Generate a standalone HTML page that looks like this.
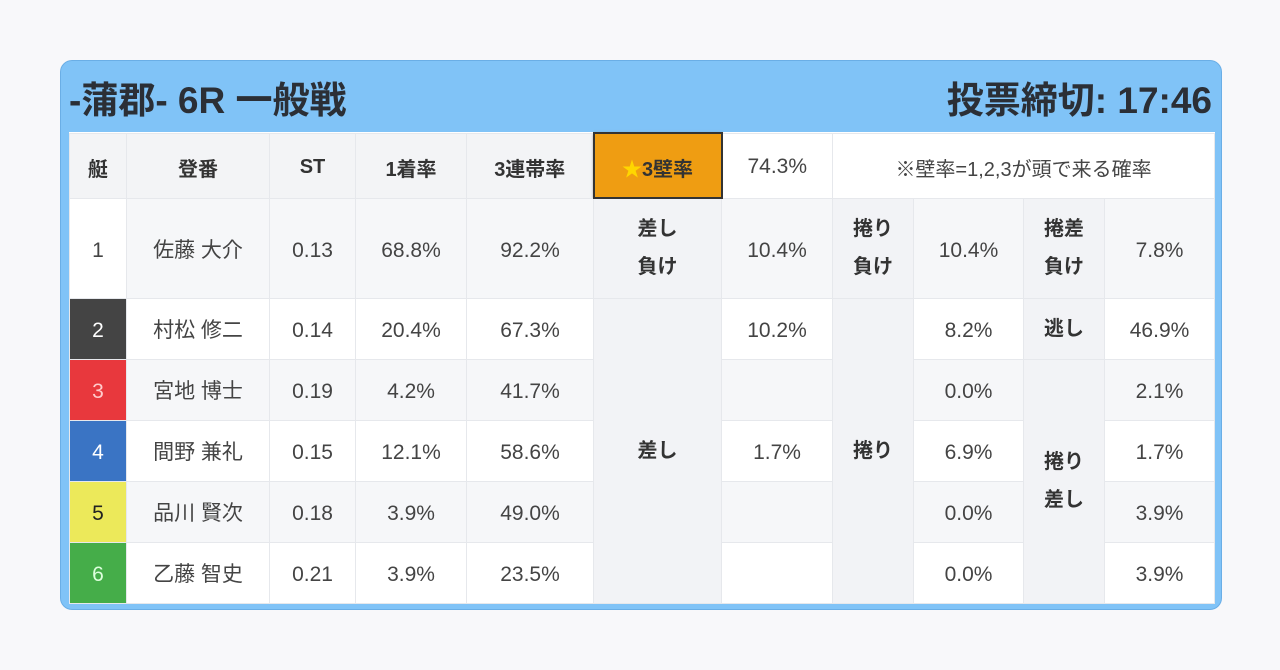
<!DOCTYPE html>
<html><head><meta charset="utf-8"><style>
body{margin:0;background:#f8f8fa;width:1280px;height:670px;font-family:"Liberation Sans","Noto Sans CJK JP",sans-serif;color:#333}
.card{position:absolute;left:60px;top:60px;width:1162px;height:550px;background:#80c3f7;border-radius:12px;box-sizing:border-box;border:1px solid #6aaee6}
.h{position:absolute;top:19px;font-size:37px;font-weight:bold;color:#2b2f36;line-height:42px}
table{position:absolute;left:8px;top:71px;border-collapse:collapse;table-layout:fixed;width:1145px;background:#fff}
td{border:1px solid #e6e8ec;text-align:center;font-size:21px;padding:5px 0 0 0;color:#444;line-height:26px}
tr.g td{background:#f6f7f9}
td.w{background:#fff!important}
td.l{background:#f2f3f6!important;font-weight:bold;color:#333;line-height:38px;padding-top:0;font-size:20px}
th{border:1px solid #e6e8ec;background:#f3f4f6;font-size:20px;font-weight:bold;color:#333;padding-top:4px}
.n{color:#fff}
</style></head><body>
<div class="card">
<div class="h" style="left:8px">-蒲郡- 6R 一般戦</div>
<div class="h" style="right:9px">投票締切: 17:46</div>
<table>
<colgroup><col style="width:57px"><col style="width:143px"><col style="width:86px"><col style="width:111px"><col style="width:127px"><col style="width:128px"><col style="width:111px"><col style="width:81px"><col style="width:110px"><col style="width:81px"><col style="width:110px"></colgroup>
<tr style="height:65px"><th>艇</th><th>登番</th><th>ST</th><th>1着率</th><th>3連帯率</th><th style="background:#ef9d12;border:2px solid #333;box-shadow:0 1px 3px #555"><span style="color:#ffd600">★</span>3壁率</th><th style="background:#fff;font-weight:normal;font-size:21px;color:#444">74.3%</th><th colspan="4" style="background:#fff;font-weight:normal;font-size:20px;color:#444">※壁率=1,2,3が頭で来る確率</th></tr>
<tr class="g" style="height:100px"><td class="w">1</td><td>佐藤 大介</td><td>0.13</td><td>68.8%</td><td>92.2%</td><td class="l">差し<br>負け</td><td>10.4%</td><td class="l">捲り<br>負け</td><td>10.4%</td><td class="l">捲差<br>負け</td><td>7.8%</td></tr>
<tr style="height:61px"><td class="n" style="background:#444">2</td><td>村松 修二</td><td>0.14</td><td>20.4%</td><td>67.3%</td><td class="l" rowspan="5">差し</td><td>10.2%</td><td class="l" rowspan="5">捲り</td><td>8.2%</td><td class="l">逃し</td><td>46.9%</td></tr>
<tr class="g" style="height:61px"><td class="n" style="background:#e8383d!important;color:#fcc">3</td><td>宮地 博士</td><td>0.19</td><td>4.2%</td><td>41.7%</td><td></td><td>0.0%</td><td class="l" rowspan="4">捲り<br>差し</td><td>2.1%</td></tr>
<tr style="height:61px"><td class="n" style="background:#3a74c4">4</td><td>間野 兼礼</td><td>0.15</td><td>12.1%</td><td>58.6%</td><td>1.7%</td><td>6.9%</td><td>1.7%</td></tr>
<tr class="g" style="height:61px"><td style="background:#ece95a!important;color:#222">5</td><td>品川 賢次</td><td>0.18</td><td>3.9%</td><td>49.0%</td><td></td><td>0.0%</td><td>3.9%</td></tr>
<tr style="height:61px"><td class="n" style="background:#45ad49;color:#dfd">6</td><td>乙藤 智史</td><td>0.21</td><td>3.9%</td><td>23.5%</td><td></td><td>0.0%</td><td>3.9%</td></tr>
</table>
</div>
</body></html>
